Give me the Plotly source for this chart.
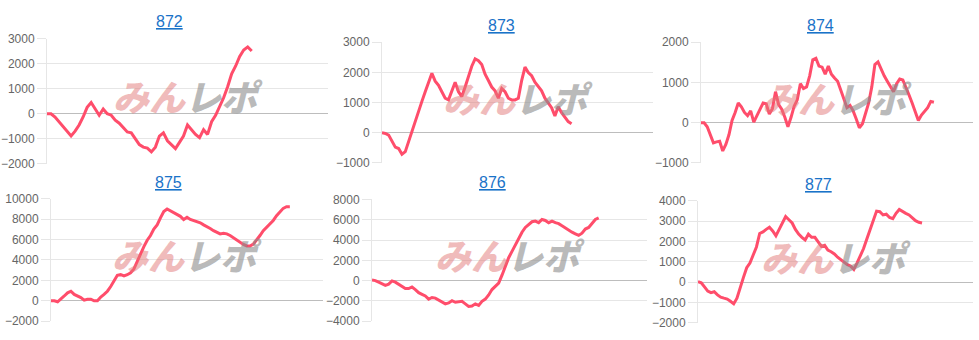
import plotly.graph_objects as go

W, H = 979, 340

titles = ["872", "873", "874", "875", "876", "877"]

s872 = [0, 0, -130, -320, -510, -700, -890, -700, -450, -130, 255, 450, 190, -60, 190, 0,
        -60, -255, -380, -575, -730, -765, -985, -1240, -1340, -1380, -1530, -1340, -895,
        -765, -1085, -1240, -1400, -1150, -895, -450, -640, -830, -960, -640, -830, -320,
        -65, 255, 640, 1085, 1600, 1915, 2300, 2555, 2680, 2515]

s873 = [0, -20, -75, -285, -475, -520, -710, -625, -285, 30, 400, 775, 1040, 1360, 1675,
        1970, 1710, 1570, 1360, 1145, 1090, 1360, 1675, 1360, 1200, 1515, 1890, 2205, 2450,
        2385, 2260, 1940, 1730, 1515, 1390, 1145, 1465, 1360, 1145, 1090, 1090, 1145, 1730,
        2175, 1995, 1890, 1675, 1515, 1390, 1145, 985, 830, 560, 860, 670, 510, 370, 300]

s874 = [0, 0, -100, -300, -500, -475, -460, -700, -540, -300, 55, 255, 490, 395, 255, 175,
        295, 15, 175, 335, 490, 470, 215, 350, 770, 450, 335, 135, -100, 135, 410, 570, 970,
        850, 890, 1165, 1565, 1600, 1405, 1380, 1205, 1405, 1205, 1110, 1030, 810, 610, 375,
        430, 295, 95, -125, -25, 255, 490, 890, 1445, 1510, 1325, 1165, 1030, 890, 770, 970,
        1085, 1060, 850, 690, 490, 295, 55, 190, 295, 375, 530, 510]

s875 = [0, 0, -95, 155, 470, 780, 940, 625, 470, 310, 60, 155, 155, 0, 0, 375, 625, 940,
        1400, 1940, 2500, 2560, 2440, 2560, 2750, 3125, 3900, 4690, 5310, 5940, 6400, 7030,
        7440, 8125, 8750, 9000, 8810, 8690, 8500, 8280, 7970, 8190, 7970, 7875, 7750, 7650,
        7440, 7280, 7090, 6875, 6720, 6560, 6620, 6560, 6400, 6190, 5940, 5690, 5530, 5375,
        5375, 5560, 5940, 6400, 6875, 7190, 7560, 7875, 8340, 8750, 9060, 9220, 9220]

s876 = [60, 0, -155, -345, -470, -345, -30, -155, -345, -565, -785, -785, -630, -880, -1190,
        -1350, -1505, -1820, -1660, -1725, -1915, -2040, -2290, -2195, -1975, -2135, -2070,
        -2040, -2290, -2540, -2510, -2290, -2445, -2040, -1820, -1410, -880, -565, -250, 535,
        1475, 2260, 2885, 3515, 4140, 4770, 5240, 5490, 5800, 5865, 5710, 6025, 5930, 5710,
        5865, 5710, 5615, 5395, 5175, 4990, 4770, 4610, 4455, 4675, 5080, 5240, 5615, 6025,
        6180]

s877 = [30, -30, -235, -440, -520, -475, -630, -740, -790, -835, -945, -1070, -790, -235,
        235, 710, 945, 1340, 1735, 2400, 2475, 2600, 2710, 2525, 2285, 2600, 2915, 3230,
        3075, 2915, 2600, 2365, 2210, 2080, 2365, 2210, 2210, 1970, 1765, 1815, 1575, 1500,
        1390, 1230, 1105, 945, 865, 790, 630, 945, 1260, 1655, 2130, 2600, 3075, 3500, 3470,
        3310, 3345, 3185, 3125, 3390, 3580, 3470, 3390, 3310, 3155, 3030, 2950, 2915]

series = [s872, s873, s874, s875, s876, s877]

y_ranges = [[-2000, 3000], [-1000, 3000], [-1000, 2000], [-2000, 10000], [-4000, 8000], [-2000, 4000]]
y_dticks = [1000, 1000, 1000, 2000, 2000, 1000]
x_spans = [70.0, 81.5, 87.6, 82.0, 82.5, 84.7]

# pixel boxes of plot areas: (left, right, top, bottom)
boxes = [(47, 328, 33.3, 163.3), (382, 653, 36.7, 162.7), (701, 973, 36.7, 162.7),
         (51, 323, 200, 327.7), (372, 647, 200.7, 327.7), (698, 973, 202.3, 329.3)]
title_pos = [(169, 15), (501, 19), (820, 19), (168, 183), (492, 183), (818, 185)]

LINE = "#ff4d6b"
GRID = "#e6e6e6"

fig = go.Figure()
annotations = []
for i, (name, ys) in enumerate(zip(titles, series)):
    n = i + 1
    xa = "x" if n == 1 else f"x{n}"
    ya = "y" if n == 1 else f"y{n}"
    fig.add_trace(go.Scatter(x=list(range(len(ys))), y=ys, mode="lines",
                             line=dict(color=LINE, width=3), xaxis=xa, yaxis=ya,
                             hoverinfo="skip", showlegend=False))
    l, r, t, b = boxes[i]
    xk = "xaxis" if n == 1 else f"xaxis{n}"
    yk = "yaxis" if n == 1 else f"yaxis{n}"
    fig.update_layout(**{
        xk: dict(domain=[l / W, r / W], range=[0, x_spans[i]], showgrid=False,
                 zeroline=False, showticklabels=False, showline=False, ticks="",
                 anchor=ya, fixedrange=True),
        yk: dict(domain=[1 - b / H, 1 - t / H], range=y_ranges[i], dtick=y_dticks[i],
                 tick0=0, tickformat="d", showgrid=True, gridcolor=GRID, gridwidth=1,
                 zeroline=True, zerolinecolor="#bdbdbd", zerolinewidth=1,
                 showline=True, linecolor=GRID, linewidth=1,
                 ticks="outside", ticklen=9, tickcolor=GRID, tickwidth=1,
                 tickfont=dict(family="Liberation Sans, Arial", size=12, color="#666666"),
                 anchor=xa, fixedrange=True),
    })
    tx, ty = title_pos[i]
    annotations.append(dict(text=f"<u>{name}</u>", x=tx / W, y=1 - ty / H, xref="paper",
                            yref="paper", showarrow=False, xanchor="center", yanchor="middle",
                            font=dict(family="Liberation Sans, Arial", size=16, color="#1a73c8")))
    cx = (l + r) / 2
    cy = t + 0.45 * (b - t)
    annotations.append(dict(
        text="<span style='color:rgba(225,120,120,0.5)'>みん</span>"
             "<span style='color:rgba(140,140,140,0.6)'>レポ</span>",
        x=cx / W, y=1 - cy / H, xref="paper", yref="paper", showarrow=False,
        xanchor="center", yanchor="middle",
        font=dict(family="Noto Sans CJK JP", size=36, weight=900, style="italic")))

fig.update_layout(width=W, height=H, margin=dict(l=0, r=0, t=0, b=0),
                  paper_bgcolor="white", plot_bgcolor="white", showlegend=False,
                  annotations=annotations)

fig.write_html("out.html", config={"displayModeBar": False})
